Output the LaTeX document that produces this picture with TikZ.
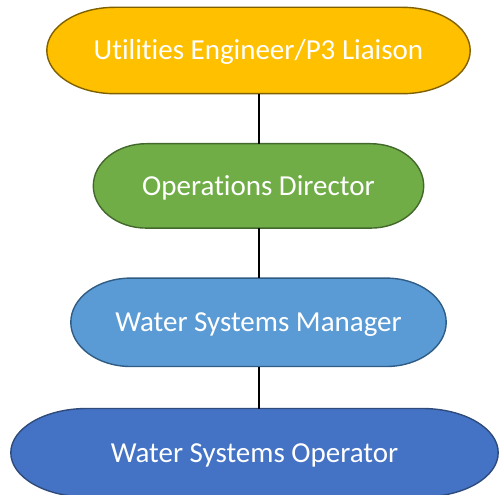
\documentclass[tikz,border=0pt]{standalone}
\usepackage{fontspec}
\setmainfont{Carlito}[Ligatures=NoCommon]
\usetikzlibrary{positioning,calc,backgrounds}

\definecolor{eng}{HTML}{FFC000}
\definecolor{engline}{HTML}{7F6000}
\definecolor{ops}{HTML}{70AD47}
\definecolor{opsline}{HTML}{43682B}
\definecolor{mgr}{HTML}{5B9BD5}
\definecolor{mgrline}{HTML}{2E5C85}
\definecolor{opr}{HTML}{4472C4}
\definecolor{oprline}{HTML}{2F4B7C}

\begin{document}
\begin{tikzpicture}[every node/.style={font=\fontsize{29}{34}\selectfont},
    role/.style={text=white,inner sep=0pt,text height=19pt,text depth=0pt}]
        \useasboundingbox (0,0) rectangle (499pt,-495pt);
        \node[role,minimum width=423pt,minimum height=86pt] (eng) at (258.5pt,-50.5pt) {Utilities Engineer/P3 Liaison};
        \node[role,minimum width=330pt,minimum height=84pt,below=50pt of eng] (dir) {Operations Director};
        \node[role,minimum width=375pt,minimum height=88pt,below=50pt of dir] (mgr) {Water Systems Manager};
        \node[role,minimum width=487pt,minimum height=88pt,below=42pt of mgr,xshift=-4pt] (op) {Water Systems Operator};
        % terminator outlines behind the text
        \begin{scope}[on background layer]
        \foreach \nd/\c/\r in {eng/eng/68pt,dir/ops/53pt,mgr/mgr/60pt,op/opr/76pt}
          \draw[fill=\c,draw=\c line,line width=1.4pt]
            let \p1=(\nd.north west), \p2=(\nd.south east) in
            (\x1+\r,\y1) -- (\x2-\r,\y1)
            arc[start angle=90,end angle=-90,x radius=\r,y radius={(\y1-\y2)/2}]
            -- (\x1+\r,\y2)
            arc[start angle=270,end angle=90,x radius=\r,y radius={(\y1-\y2)/2}] -- cycle;
        \end{scope}
        \draw[line width=2pt] (eng)--(dir);\draw[line width=2pt] (dir)--(mgr);\draw[line width=2pt] (mgr)--(mgr |- op.north);
      \end{tikzpicture}
\end{document}
